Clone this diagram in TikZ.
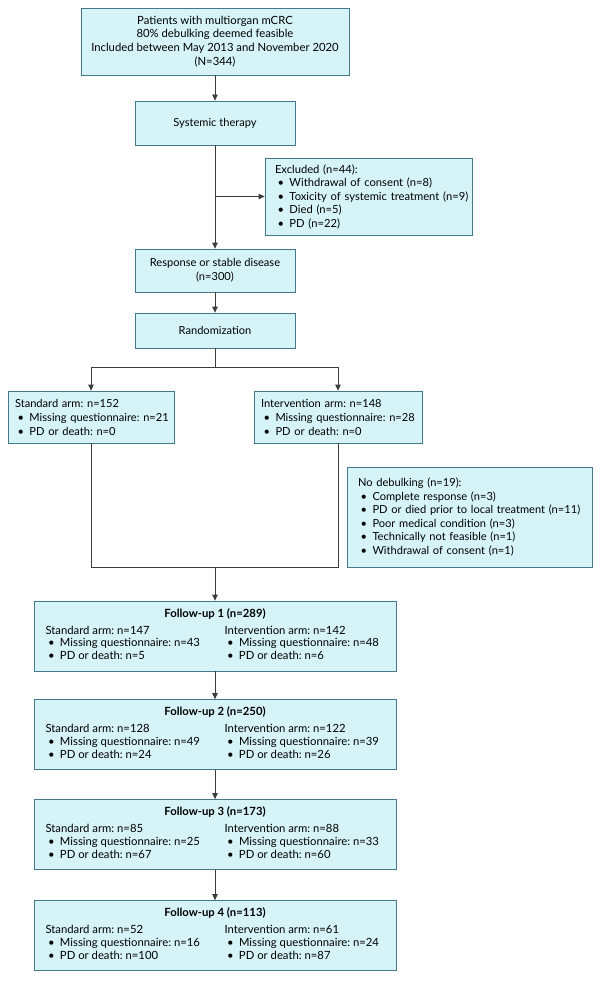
\documentclass[tikz,border=0pt]{standalone}
\usepackage{fontspec}
\setmainfont{Lato}
\usetikzlibrary{arrows.meta,calc}
\definecolor{boxfill}{HTML}{D6F4F8}
\definecolor{boxline}{HTML}{44788A}
\definecolor{conn}{HTML}{3C3C3C}
\frenchspacing
\newcommand{\bitem}[1]{\mbox{\hspace*{2.5pt}\makebox[12pt][l]{\textbullet}#1}}
\begin{document}
\begin{tikzpicture}[x=1pt,y=-1pt,
  box/.style={draw=boxline, fill=boxfill, line width=0.8pt, inner sep=0pt,
    font=\fontsize{11.1}{13.5}\selectfont},
  lbox/.style={box, align=left},
  cbox/.style={box, align=center},
  conline/.style={draw=conn, line width=0.8pt},
  arr/.style={conline, -{Triangle[length=6pt,width=5.5pt]}}
]
\useasboundingbox[fill=white] (0,0) rectangle (600,987);

\node[cbox, minimum width=268pt, minimum height=67pt,
  font=\fontsize{11.3}{13.8}\selectfont] (top) at (215,41.5)
  {Patients with multiorgan mCRC\\80\% debulking deemed feasible\\Included between May 2013 and November 2020\\(N=344)};

\node[cbox, minimum width=160pt, minimum height=44pt] (sys) at (215,123) {Systemic therapy};

\node[lbox, minimum width=207pt, minimum height=77pt, text width=187pt,
  font=\fontsize{11.2}{13.5}\selectfont] (exc) at (368.5,196.5)
  {Excluded (n=44):\\\bitem{Withdrawal of consent (n=8)}\\\bitem{Toxicity of systemic treatment (n=9)}\\\bitem{Died (n=5)}\\\bitem{PD (n=22)}};

\node[cbox, minimum width=160pt, minimum height=43pt, font=\fontsize{11.1}{14}\selectfont] (resp) at (215,270.5) {Response or stable disease\\(n=300)};

\node[cbox, minimum width=160pt, minimum height=35pt] (rand) at (215,330.5) {Randomization};

\node[lbox, minimum width=166pt, minimum height=52pt, text width=152pt,
  font=\fontsize{11.1}{14}\selectfont] (std) at (91,417)
  {Standard arm: n=152\\\bitem{Missing questionnaire: n=21}\\\bitem{PD or death: n=0}};

\node[lbox, minimum width=168pt, minimum height=52pt, text width=154pt,
  font=\fontsize{11.1}{14}\selectfont] (int) at (338,417)
  {Intervention arm: n=148\\\bitem{Missing questionnaire: n=28}\\\bitem{PD or death: n=0}};

\node[lbox, minimum width=245pt, minimum height=100pt, text width=223pt,
  font=\fontsize{11.1}{13.6}\selectfont] (nodeb) at (469.5,517)
  {No debulking (n=19):\\\bitem{Complete response (n=3)}\\\bitem{PD or died prior to local treatment (n=11)}\\\bitem{Poor medical condition (n=3)}\\\bitem{Technically not feasible (n=1)}\\\bitem{Withdrawal of consent (n=1)}};

\foreach \nm/\yc/\tot/\sa/\sm/\sp/\ia/\im/\ip in {
  fua/636/1 (n=289)/147/43/5/142/48/6,
  fub/734.5/2 (n=250)/128/49/24/122/39/26,
  fuc/834.5/3 (n=173)/85/25/67/88/33/60,
  fud/935.5/4 (n=113)/52/16/100/61/24/87}{
  \node[cbox, minimum width=362pt, minimum height=70pt, font=\fontsize{11.3}{12.7}\selectfont] (\nm) at (215,\yc)
    {\textbf{Follow-up \tot}\\[5pt]
     \begin{tabular}{@{}p{179pt}@{}p{160pt}@{}}
     Standard arm: n=\sa & Intervention arm: n=\ia\\
     \bitem{Missing questionnaire: n=\sm} & \bitem{Missing questionnaire: n=\im}\\
     \bitem{PD or death: n=\sp} & \bitem{PD or death: n=\ip}
     \end{tabular}};
}

\draw[arr] (top) -- (sys);
\draw[arr] (sys) -- (resp);
\coordinate (br) at (sys.south |- exc.west);
\draw[arr] (br) -- (exc.west);
\draw[arr] (resp) -- (rand);
\coordinate (split) at ($(rand.south)+(0,19)$);
\draw[conline] (rand.south) -- (split);
\draw[arr] (split) -| (std.north);
\draw[arr] (split) -| (int.north);
\coordinate (join) at (fua.north |- nodeb.south);
\draw[conline] (std.south) |- (join) -| (int.south);
\draw[arr] (join) -- (fua.north);
\draw[arr] (fua) -- (fub);
\draw[arr] (fub) -- (fuc);
\draw[arr] (fuc) -- (fud);
\end{tikzpicture}
\end{document}
